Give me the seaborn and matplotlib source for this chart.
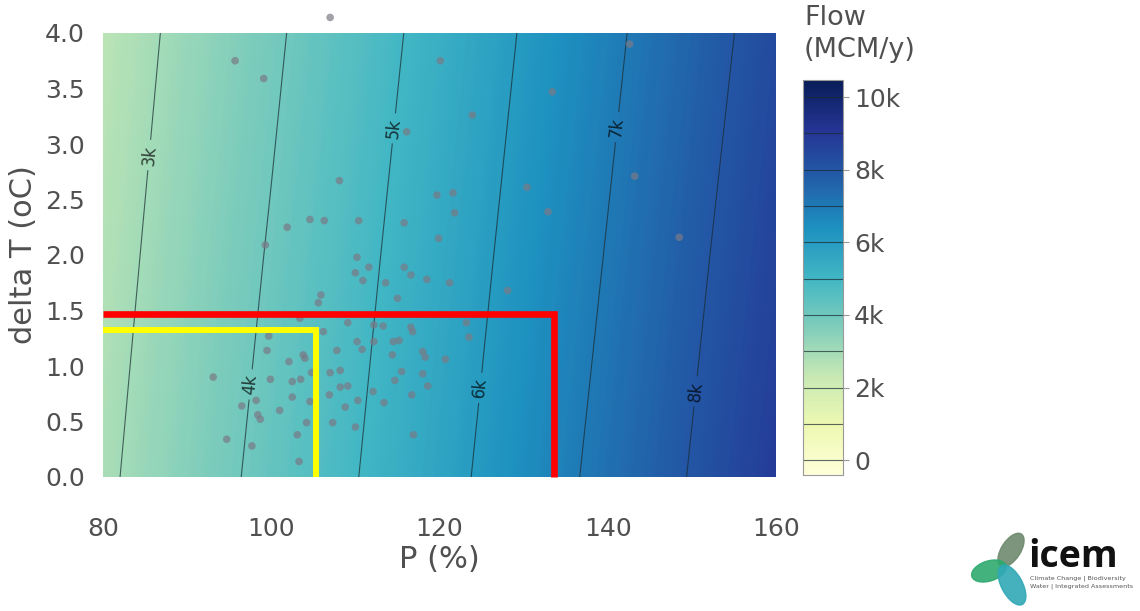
import numpy as np
import pandas as pd
import matplotlib.pyplot as plt
from matplotlib.patches import Ellipse
from matplotlib.colors import Normalize
from matplotlib.cm import ScalarMappable
import seaborn as sns

# flow surface (MCM/y) on a coarse grid
p_grid = [80, 90, 100, 110, 120, 130, 140, 150, 160]
dt_grid = [0, 2, 4]
flow_dt0 = [2860, 3550, 4250, 4970, 5710, 6480, 7260, 8050, 8850]
flow_dt2 = [2700, 3380, 4060, 4780, 5510, 6270, 7040, 7830, 8620]
flow_dt4 = [2550, 3210, 3870, 4580, 5310, 6060, 6820, 7600, 8390]

# projections (grey dots)
proj_p = [107.0, 95.7, 99.1, 120.1, 142.6, 133.4, 123.9, 116.1, 143.2, 148.5,
          130.4, 132.9, 121.6, 121.8, 119.9, 121.2, 128.1, 123.2, 123.5, 120.7,
          108.1, 101.9, 104.6, 106.3, 110.4, 99.3, 115.8, 119.7, 110.2, 111.6,
          110.0, 115.8, 116.6, 110.9, 118.5, 113.6, 105.9, 105.6, 115.0, 103.4,
          109.1, 112.2, 113.3, 116.6, 116.8, 106.2, 99.7, 99.5, 103.8, 102.1,
          104.0, 107.8, 110.2, 110.8, 112.2, 114.4, 114.5, 118.0, 118.3, 115.5,
          108.2, 107.0, 104.8, 103.5, 102.5, 99.9, 93.1, 114.7, 118.0, 118.6,
          108.2, 109.1, 106.9, 102.5, 98.2, 96.5, 101.0, 104.6, 98.4, 104.2,
          107.3, 108.8, 110.3, 112.1, 113.4, 116.7, 110.0, 103.1, 94.7, 97.7,
          116.9, 103.3, 98.7, 115.2]
proj_dt = [4.14, 3.75, 3.59, 3.75, 3.90, 3.47, 3.26, 3.11, 2.71, 2.16,
           2.61, 2.39, 2.56, 2.38, 2.15, 1.75, 1.68, 1.39, 1.26, 1.06,
           2.67, 2.25, 2.32, 2.31, 2.31, 2.09, 2.29, 2.54, 1.98, 1.89,
           1.84, 1.89, 1.82, 1.77, 1.78, 1.75, 1.64, 1.57, 1.61, 1.43,
           1.39, 1.37, 1.36, 1.35, 1.31, 1.31, 1.27, 1.14, 1.10, 1.04,
           1.07, 1.14, 1.22, 1.15, 1.22, 1.10, 1.22, 1.13, 1.08, 0.95,
           0.96, 0.94, 0.94, 0.88, 0.86, 0.88, 0.90, 0.87, 0.93, 0.82,
           0.81, 0.82, 0.74, 0.72, 0.69, 0.64, 0.60, 0.68, 0.56, 0.49,
           0.49, 0.63, 0.69, 0.77, 0.67, 0.74, 0.45, 0.38, 0.34, 0.28,
           0.38, 0.14, 0.52, 1.23]

# threshold boxes
red_p, red_dt = 133.6, 1.47
yellow_p, yellow_dt = 105.3, 1.32

contour_levels = [0, 1000, 2000, 3000, 4000, 5000, 6000, 7000, 8000, 9000, 10000]
cbar_ticks = [0, 2000, 4000, 6000, 8000, 10000]
cbar_labels = ['0', '2k', '4k', '6k', '8k', '10k']
flow_min, flow_max = -410, 10470

sns.set_style('white')
plt.rcParams['font.family'] = ['DejaVu Sans']
txt = '#505050'

fig = plt.figure(figsize=(11.4, 6.11), dpi=100)
ax = fig.add_axes([103 / 1140, 1 - 477 / 611, 673 / 1140, 444 / 611])

flow = np.array([flow_dt0, flow_dt2, flow_dt4])
ax.contourf(p_grid, dt_grid, flow, levels=np.linspace(flow_min, flow_max, 300),
            cmap='YlGnBu', vmin=flow_min, vmax=flow_max, antialiased=False)
cs = ax.contour(p_grid, dt_grid, flow, levels=contour_levels,
                colors='#1a2a30', linewidths=0.8, alpha=0.7)
label_pos = [(85.6, 2.9), (98.1, 0.83), (114.7, 3.14), (125.2, 0.8), (141.2, 3.15), (150.6, 0.77)]
ax.clabel(cs, fmt=lambda v: f'{int(v / 1000)}k', manual=label_pos, inline=True,
          fontsize=12, colors='black')

df = pd.DataFrame({'P': proj_p, 'dT': proj_dt})
sns.scatterplot(data=df, x='P', y='dT', ax=ax, color='#7a7a86', alpha=0.7,
                s=30, edgecolor='none', zorder=3)
ax.collections[-1].set_clip_on(False)

ax.plot([80, red_p, red_p], [red_dt, red_dt, 0], color='#ff0000', lw=4.8, zorder=4,
        clip_on=False, solid_joinstyle='miter', solid_capstyle='butt')
ax.plot([80, yellow_p, yellow_p], [yellow_dt, yellow_dt, 0], color='#ffff00', lw=4.3,
        zorder=4, clip_on=False, solid_joinstyle='miter', solid_capstyle='butt')

ax.set_xlim(80, 160)
ax.set_ylim(0, 4)
ax.set_xticks([80, 100, 120, 140, 160])
ax.set_yticks([0, 0.5, 1, 1.5, 2, 2.5, 3, 3.5, 4])
ax.set_yticklabels([f'{v:.1f}' for v in ax.get_yticks()])
for s in ax.spines.values():
    s.set_visible(False)
ax.spines['bottom'].set_position(('outward', 16))
ax.spines['left'].set_position(('outward', 3))
ax.tick_params(axis='both', direction='out', length=5, width=1, color='#bbbbbb',
               labelsize=18, labelcolor=txt)
ax.tick_params(axis='x', pad=8)
ax.tick_params(axis='y', pad=5)
ax.set_xlabel('P (%)', fontsize=22, color=txt, labelpad=3)
ax.set_ylabel('delta T (oC)', fontsize=22, color=txt, labelpad=5)

# colour bar
cax = fig.add_axes([803 / 1140, 1 - 475 / 611, 40 / 1140, 395 / 611])
sm = ScalarMappable(norm=Normalize(flow_min, flow_max), cmap='YlGnBu')
cbar = fig.colorbar(sm, cax=cax, ticks=cbar_ticks)
cbar.ax.set_yticklabels(cbar_labels)
cbar.ax.tick_params(length=4, color='#999999', labelsize=18, labelcolor=txt, pad=4)
cbar.outline.set_edgecolor('#999999')
for lev in contour_levels:
    cbar.ax.axhline(lev, color='#1a2a30', lw=0.8, alpha=0.7)
fig.text(804 / 1140, 1 - 5 / 611, 'Flow\n(MCM/y)', ha='left', va='top', fontsize=19.5,
         color=txt, linespacing=1.3)

# logo
lax = fig.add_axes([950 / 1140, 0, 190 / 1140, 95 / 611])
lax.set_xlim(950, 1140)
lax.set_ylim(611, 516)
lax.axis('off')
lax.add_patch(Ellipse((1011, 550), 38, 19, angle=-57, color='#6e8a6e', alpha=0.9))
lax.add_patch(Ellipse((989, 571), 36, 20, angle=-18, color='#2eaa6e', alpha=0.9))
lax.add_patch(Ellipse((1012, 585), 44, 21, angle=62, color='#30a9b5', alpha=0.9))
lax.text(1028, 567, 'icem', fontsize=27, fontweight='bold', color='#111111',
         ha='left', va='baseline', family='Open Sans')
lax.text(1030, 578, 'Climate Change | Biodiversity', fontsize=4.6, color='#555555',
         ha='left', va='center')
lax.text(1030, 586, 'Water | Integrated Assessments', fontsize=4.6, color='#555555',
         ha='left', va='center')

fig.savefig('out.png', dpi=100)
